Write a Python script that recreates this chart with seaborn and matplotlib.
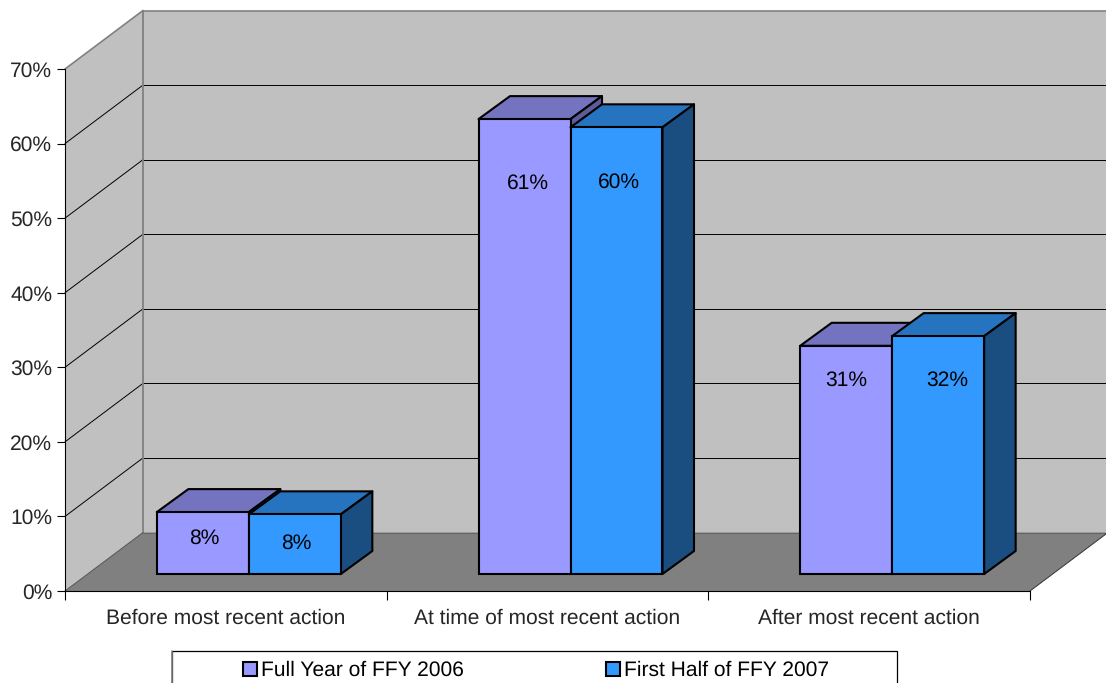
import matplotlib
matplotlib.use("Agg")
import matplotlib.pyplot as plt
import pandas as pd
import seaborn as sns
from matplotlib.lines import Line2D
from matplotlib.patches import Polygon, Rectangle
from matplotlib.transforms import Affine2D

# Chart values (percent of cases)
categories = ["Before most recent action", "At time of most recent action", "After most recent action"]
series_names = ["Full Year of FFY 2006", "First Half of FFY 2007"]
full_year_2006 = [8.3, 61.0, 30.6]
first_half_2007 = [8.0, 59.9, 31.9]
y_ticks = [0, 10, 20, 30, 40, 50, 60, 70]

W, H = 1106, 683
FONT = 15.15
INK = "black"
WALL = "#C0C0C0"
FLOOR = "#808080"
EDGE = "#808080"
FRONT = ["#9999FF", "#3399FF"]
TOP = ["#7373BF", "#2673BF"]
SIDE = ["#5C5C99", "#1A4D80"]

sns.set_style("white")
plt.rcParams["font.family"] = ["Liberation Sans", "DejaVu Sans"]
plt.rcParams["text.color"] = INK
plt.rcParams["text.hinting"] = "none"
plt.rcParams["text.hinting_factor"] = 8

df = pd.DataFrame({
    "category": categories * 2,
    "series": [series_names[0]] * 3 + [series_names[1]] * 3,
    "value": full_year_2006 + first_half_2007,
})

fig = plt.figure(figsize=(W / 100, H / 100), dpi=100, facecolor="white")


def box(left, bottom):
    return [left / W, bottom / H, 965 / W, 522 / H]


# Front plane carrying the axes, and the plane the bars stand in
ax = fig.add_axes(box(65, 92), facecolor="none")
ax_bars = fig.add_axes(box(88, 109), facecolor="none")
for a in (ax, ax_bars):
    a.set_xlim(-0.5, 2.5)
    a.set_ylim(0, 70)

# Room: side wall, back wall and floor, extruded along the depth vector
DEPTH = (78, 58.5)
to_back = ax.transData + Affine2D().translate(*DEPTH)
x0, x1 = ax.get_xlim()
y0, y1 = ax.get_ylim()


def room_pt(x, y, back):
    return (to_back if back else ax.transData).transform((x, y))


room_faces = [
    ([room_pt(x0, y0, 0), room_pt(x0, y1, 0), room_pt(x0, y1, 1), room_pt(x0, y0, 1)], WALL),
    ([room_pt(x0, y0, 1), room_pt(x0, y1, 1), room_pt(x1, y1, 1), room_pt(x1, y0, 1)], WALL),
    ([room_pt(x0, y0, 0), room_pt(x0, y0, 1), room_pt(x1, y0, 1), room_pt(x1, y0, 0)], FLOOR),
]
for pts, color in room_faces:
    fig.add_artist(Polygon(pts, closed=True, transform=None, facecolor=color,
                           edgecolor="none", zorder=-5))


def room_line(p, q, color, lw):
    fig.add_artist(Line2D([p[0], q[0]], [p[1], q[1]], transform=None, color=color,
                          lw=lw, zorder=-4))


for t in y_ticks[1:-1]:
    room_line(room_pt(x0, t, 0), room_pt(x0, t, 1), INK, 0.7)
    room_line(room_pt(x0, t, 1), room_pt(x1, t, 1), INK, 0.7)
room_line(room_pt(x0, y1, 0), room_pt(x0, y1, 1), EDGE, 1.2)
room_line(room_pt(x0, y1, 1), room_pt(x1, y1, 1), EDGE, 1.2)
room_line(room_pt(x0, y0, 1), room_pt(x0, y1, 1), EDGE, 1.3)
room_line(room_pt(x0, y0, 1), room_pt(x1, y0, 1), "#666666", 0.8)
room_line(room_pt(x0, y0, 0), room_pt(x0, y0, 1), "#555555", 0.7)
room_line(room_pt(x1, y0, 0), room_pt(x1, y0, 1), "#333333", 0.7)

# Axis lines, ticks and labels
for side in ("top", "right"):
    ax.spines[side].set_visible(False)
for side in ("left", "bottom"):
    ax.spines[side].set_color(INK)
    ax.spines[side].set_linewidth(0.8)
ax.set_yticks(y_ticks)
ax.set_yticklabels([f"{t}%" for t in y_ticks], fontsize=FONT)
ax.tick_params(axis="y", length=5.8, width=0.8, pad=3.5, color=INK, left=True)
ax.set_xticks([-0.5, 0.5, 1.5, 2.5])
ax.set_xticklabels([])
ax.tick_params(axis="x", which="major", length=6.5, width=0.8, color=INK, bottom=True)
ax.set_xticks([0, 1, 2], minor=True)
ax.set_xticklabels(categories, minor=True, fontsize=FONT)
ax.tick_params(axis="x", which="minor", length=0, pad=13, bottom=False)
ax.set_xlabel("")
ax.set_ylabel("")

# Bars
sns.barplot(data=df, x="category", y="value", hue="series", hue_order=series_names,
            palette=FRONT, saturation=1, errorbar=None, width=0.572, gap=0,
            edgecolor=INK, linewidth=1.5, ax=ax_bars)
ax_bars.set_xlim(-0.5, 2.5)
ax_bars.set_ylim(0, 70)
ax_bars.set_axis_off()

# Depth faces built from each bar's own rectangle
BAR_DEPTH = (31.5, 23)
shift = ax_bars.transData + Affine2D().translate(*BAR_DEPTH)
for s, container in enumerate(ax_bars.containers):
    for bar in container:
        left, right = bar.get_x(), bar.get_x() + bar.get_width()
        h = bar.get_height()
        near = ax_bars.transData.transform([(left, h), (right, h), (right, 0)])
        far = shift.transform([(left, h), (right, h), (right, 0)])
        base = 3 + 2 * s
        fig_faces = [
            ([near[0], far[0], far[1], near[1]], TOP[s]),
            ([near[1], far[1], far[2], near[2]], SIDE[s]),
        ]
        for pts, color in fig_faces:
            ax_bars.add_patch(Polygon(pts, closed=True, transform=None, facecolor=color,
                                      edgecolor=INK, linewidth=1.5, joinstyle="round",
                                      zorder=base, clip_on=False))
        bar.set_zorder(base + 1)
        bar.set_clip_on(False)

# Value labels, placed inside the bars below their top edge
label_drop = [[26, 64, 35], [29, 55, 44]]
label_nudge = [[1, 3, 0], [1, 2, 9]]
for s, container in enumerate(ax_bars.containers):
    for j, bar in enumerate(container):
        ax_bars.annotate(f"{bar.get_height():.0f}%",
                         xy=(bar.get_x() + bar.get_width() / 2, bar.get_height()),
                         xytext=(label_nudge[s][j], -label_drop[s][j]), textcoords="offset pixels",
                         ha="center", va="center", fontsize=FONT, color=INK, zorder=20)

# Legend along the lower edge, its frame running off the figure
sns.move_legend(ax_bars, loc="upper left", bbox_to_anchor=(243 / W, (H - 661) / H),
                bbox_transform=fig.transFigure, ncol=2, title=None, frameon=False,
                fontsize=FONT, handlelength=0.67, handleheight=0.67, handletextpad=0.19,
                columnspacing=6.74, borderpad=0, borderaxespad=0)
fig.add_artist(Rectangle((172 / W, -10 / H), 725 / W, (H - 651 + 10) / H, transform=fig.transFigure,
                         facecolor="none", edgecolor=INK, linewidth=0.9, zorder=-1))
fig.add_artist(Line2D([172.5 / W, 172.5 / W], [0, (H - 651) / H], transform=fig.transFigure,
                      color=EDGE, lw=1.2, zorder=-1))

fig.savefig("out.png", dpi=100, facecolor="white")
